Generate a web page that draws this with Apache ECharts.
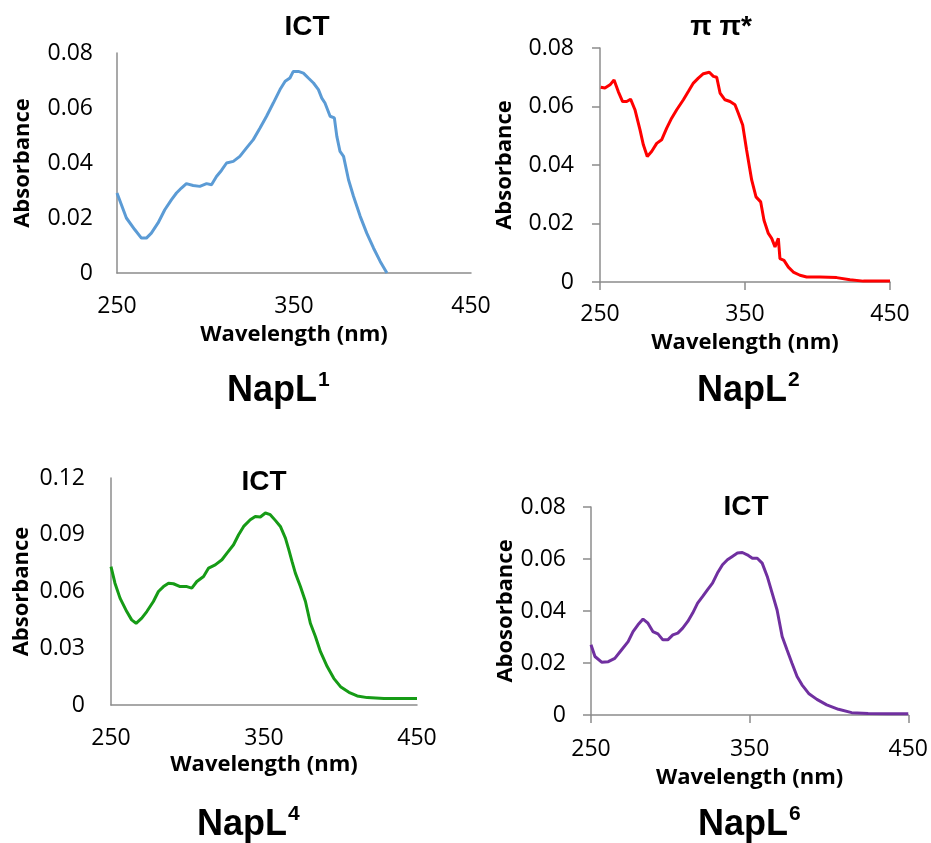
<!DOCTYPE html>
<html>
<head>
<meta charset="utf-8">
<script src="https://cdn.jsdelivr.net/npm/echarts@6/dist/echarts.min.js"></script>
<style>
html,body{margin:0;padding:0;background:#fff;}
#chart{width:931px;height:843px;}
</style>
</head>
<body>
<div id="chart"></div>
<script>
// ---- Data ----
const panelTitles = ['ICT', 'π π*', 'ICT', 'ICT'];
const compoundNames = ['NapL', 'NapL', 'NapL', 'NapL'];
const compoundSup = ['1', '2', '4', '6'];
const yAxisTitles = ['Absorbance', 'Absorbance', 'Absorbance', 'Abosorbance'];
const xAxisTitle = 'Wavelength (nm)';
const xTicks = [250, 350, 450];
const yMax = [0.08, 0.08, 0.12, 0.08];
const yStep = [0.02, 0.02, 0.03, 0.02];

const wl1 = [250,255.3,260,263.8,266.6,269.4,273.2,277,280.8,283.6,286.4,289.2,293,296.8,300.6,303.4,306.2,309,311.9,315.7,319.4,323.2,327,330.8,334.5,338.3,342.1,345,347.7,349.6,352.5,355.3,358.1,361,363.8,365.7,367.5,370.4,372.8,374.2,376,378,380.8,383.6,387.4,391.1,394.9,398.7,402.5];
const abs1 = [0.0291,0.0200,0.0158,0.0127,0.0127,0.0145,0.0182,0.0230,0.0267,0.0291,0.0309,0.0325,0.0318,0.0315,0.0325,0.0321,0.0351,0.0373,0.0400,0.0406,0.0424,0.0455,0.0485,0.0527,0.0570,0.0618,0.0667,0.0697,0.0709,0.0733,0.0733,0.0727,0.0709,0.0691,0.0667,0.0636,0.0618,0.0570,0.0564,0.0497,0.0442,0.0424,0.0339,0.0279,0.0206,0.0145,0.0091,0.0042,0];

const wl2 = [250.5,253.4,256.9,259.7,262.6,265.6,268.4,271.1,274.1,277.6,279.9,282.6,285.6,289.1,292.5,296,299.4,302.9,307.5,310.9,314.4,317.8,321.3,325.4,328.2,330.5,332.8,336.2,339.7,343.1,345.4,348.4,351.1,354.6,357.6,360.8,363.1,366.1,368.4,370.7,373,374.1,376.9,379.9,383.3,387.9,392.5,401.7,413.2,422.4,431.6,450];
const abs2 = [0.0666,0.0663,0.0674,0.0691,0.0651,0.0617,0.0617,0.0625,0.0589,0.0520,0.0469,0.0429,0.0446,0.0474,0.0486,0.0526,0.0560,0.0589,0.0623,0.0651,0.0680,0.0697,0.0712,0.0717,0.0703,0.0700,0.0646,0.0623,0.0617,0.0606,0.0577,0.0537,0.0451,0.0349,0.0291,0.0274,0.0211,0.0166,0.0149,0.0120,0.0149,0.0080,0.0074,0.0051,0.0034,0.0023,0.0017,0.0017,0.0015,0.0008,0.0003,0.0003];

const wl4 = [250,252.6,255.9,260.3,263.5,266.4,270.1,273.4,277.7,281,284.3,287.6,290.8,295.2,299.6,302.8,306.1,310.5,313.8,318.1,322.5,325.8,330.1,333.4,336.7,341,344.3,347.6,350.9,354.1,357.4,360.7,364,366.2,368.3,370.5,373.8,377.1,380.3,383.6,386.9,391.3,395.6,400,405.5,410.9,417.5,428.4,439.3,450];
const abs4 = [0.0732,0.0644,0.0565,0.0494,0.0450,0.0432,0.0459,0.0494,0.0547,0.0600,0.0626,0.0644,0.0641,0.0626,0.0626,0.0618,0.0653,0.0679,0.0724,0.0741,0.0768,0.0803,0.0847,0.0900,0.0944,0.0979,0.0997,0.0994,0.1015,0.1006,0.0976,0.0944,0.0882,0.0821,0.0759,0.0697,0.0626,0.0547,0.0432,0.0362,0.0282,0.0203,0.0141,0.0097,0.0067,0.0048,0.0039,0.0034,0.0034,0.0034];

const wl6 = [250,252.5,256.7,260.9,265,269.2,273.4,276.5,279.6,282.8,285.9,289,292.2,295.3,298.4,301.6,304.7,307.8,311,314.1,317.2,320.4,323.5,326.6,329.7,332.9,336,339.1,342.3,345.4,348.5,351.7,354.8,357.9,361.1,364.2,367.3,370.5,373.6,376.7,379.9,383,387.2,392.4,398.6,406,414.3,424.7,437.3,450];
const abs6 = [0.0270,0.0225,0.0203,0.0205,0.0218,0.0250,0.0282,0.0321,0.0347,0.0369,0.0353,0.0321,0.0312,0.0289,0.0289,0.0308,0.0315,0.0334,0.0360,0.0392,0.0430,0.0456,0.0482,0.0507,0.0546,0.0578,0.0597,0.0610,0.0623,0.0625,0.0616,0.0603,0.0603,0.0584,0.0533,0.0469,0.0404,0.0302,0.0250,0.0199,0.0148,0.0116,0.0083,0.0060,0.0039,0.0022,0.0009,0.0006,0.0005,0.0005];

const wls = [wl1, wl2, wl4, wl6];
const absVals = [abs1, abs2, abs4, abs6];

// ---- Layout / style ----
const colors = ['#5B9BD5', '#FF0000', '#169B16', '#7030A0'];
const grids = [
  {left:117, top:53, width:354, height:220},
  {left:600, top:48, width:290, height:234},
  {left:111, top:478, width:306, height:227},
  {left:591, top:507, width:319, height:208}
];
const showTicks = [false, true, false, true];
const xLabelMargin = [22, 21, 22, 23];
const yLabelMargin = [24, 26, 26, 25];
const xNameGap = [51, 50, 49, 52];
const yNameGap = [83, 84, 78, 73];
const titlePos = [[307,27],[721,27],[264,482],[746,507]];
const namePos = [[227,391],[697,391],[197,825],[698,825]];

const axisGrey = '#8C8C8C';
const tickFont = 'Open Sans';
const nameFontSize = 36;
const supFontSize = 21;

// measure main label width so the superscript sits right after it
const ctx = document.createElement('canvas').getContext('2d');
ctx.font = 'bold ' + nameFontSize + 'px "Liberation Sans"';

const option = {
  animation: false,
  backgroundColor: '#fff',
  grid: grids.map(g => Object.assign({containLabel:false}, g)),
  xAxis: grids.map((g, i) => ({
    type: 'value', gridIndex: i, min: xTicks[0], max: xTicks[xTicks.length-1], interval: 100,
    axisLine: {show:true, lineStyle:{color:axisGrey, width:1.5}},
    axisTick: {show: showTicks[i], length: 8, lineStyle:{color:axisGrey, width:1.5}},
    splitLine: {show:false},
    axisLabel: {color:'#000', fontFamily:tickFont, fontSize:23, margin:xLabelMargin[i]},
    name: xAxisTitle, nameLocation:'middle', nameGap: xNameGap[i],
    nameTextStyle: {color:'#000', fontFamily:tickFont, fontWeight:'bold', fontSize:22}
  })),
  yAxis: grids.map((g, i) => ({
    type: 'value', gridIndex: i, min: 0, max: yMax[i], interval: yStep[i],
    axisLine: {show:true, lineStyle:{color:axisGrey, width:1.5}},
    axisTick: {show: showTicks[i], length: 8, lineStyle:{color:axisGrey, width:1.5}},
    splitLine: {show:false},
    axisLabel: {color:'#000', fontFamily:tickFont, fontSize:23, margin:yLabelMargin[i],
      formatter: v => (Math.abs(v) < 1e-9 ? '0' : String(+v.toFixed(2)))},
    name: yAxisTitles[i], nameLocation:'middle', nameGap: yNameGap[i], nameRotate: 90,
    nameTextStyle: {color:'#000', fontFamily:tickFont, fontWeight:'bold', fontSize:22}
  })),
  series: wls.map((wl, i) => ({
    type: 'line', xAxisIndex: i, yAxisIndex: i,
    data: wl.map((w, k) => [w, absVals[i][k]]),
    showSymbol: false, smooth: false,
    lineStyle: {color: colors[i], width: 3},
    itemStyle: {color: colors[i]}
  })),
  graphic: [].concat(
    titlePos.map((p, i) => ({
      type:'text', x:p[0], y:p[1],
      style:{text:panelTitles[i], fontFamily:'Liberation Sans', fontWeight:'bold', fontSize:28,
        fill:'#000', align:'center', verticalAlign:'middle'}
    })),
    namePos.map((p, i) => ({
      type:'text', x:p[0], y:p[1],
      style:{text:compoundNames[i], fontFamily:'Liberation Sans', fontWeight:'bold', fontSize:nameFontSize,
        fill:'#000', align:'left', verticalAlign:'middle'}
    })),
    namePos.map((p, i) => ({
      type:'text', x:p[0] + ctx.measureText(compoundNames[i]).width + 1, y:p[1] - 11,
      style:{text:compoundSup[i], fontFamily:'Liberation Sans', fontWeight:'bold', fontSize:supFontSize,
        fill:'#000', align:'left', verticalAlign:'middle'}
    }))
  )
};

const chart = echarts.init(document.getElementById('chart'), null, {renderer:'canvas'});
chart.setOption(option);
</script>
</body>
</html>
